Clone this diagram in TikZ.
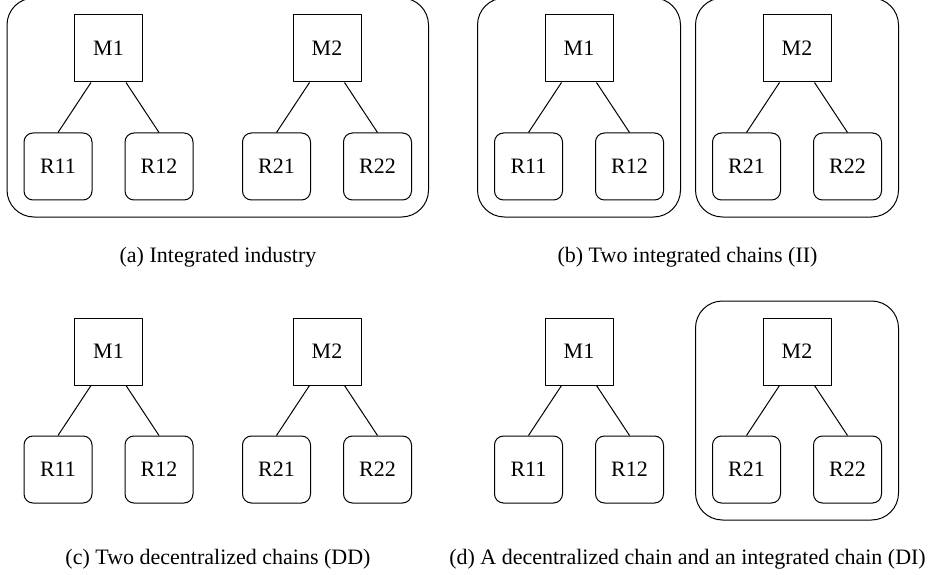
\documentclass[tikz,border=0pt]{standalone}
\usepackage{fontspec}
\setmainfont{Liberation Serif}
\usetikzlibrary{fit}

\begin{document}
\begin{tikzpicture}[x=1pt,y=-1pt,font=\fontsize{22}{26}\selectfont,line width=1pt,line join=round,
  mfirm/.style={draw,rectangle,minimum width=68pt,minimum height=67pt,inner sep=0pt},
  retail/.style={draw,rectangle,rounded corners=9pt,minimum width=68pt,minimum height=67pt,inner sep=0pt},
  chainbox/.style={draw,rectangle,rounded corners=27pt,inner sep=16.5pt},
  caption/.style={anchor=center,inner sep=0pt}]
  \useasboundingbox (0,0) rectangle (935,575);

  % one chain: #1 panel, #2 chain number, (#3,#4) centre of the manufacturer
  \def\mkchain#1#2#3#4{
    \node[mfirm] (#1M#2) at (#3,#4) {M#2};
    \node[retail] (#1R#21) at (#3-50.5,#4+118) {R#21};
    \node[retail] (#1R#22) at (#3+50.5,#4+118) {R#22};
    \draw ([xshift=-17.5pt]#1M#2.south) -- (#1R#21.north);
    \draw ([xshift=17.5pt]#1M#2.south) -- (#1R#22.north);
  }

  % ---------- (a) integrated industry ----------
  \mkchain{a}{1}{108.5}{48.5}
  \mkchain{a}{2}{327}{48.5}
  \node[chainbox,fit=(aM1) (aR11) (aR22)] (aall) {};
  \node[caption] (capa) at (218,257) {(a) Integrated industry};

  % ---------- (b) two integrated chains ----------
  \mkchain{b}{1}{579}{48.5}
  \mkchain{b}{2}{797}{48.5}
  \node[chainbox,fit=(bM1) (bR11) (bR12)] (bone) {};
  \node[chainbox,fit=(bM2) (bR21) (bR22)] (btwo) {};
  \node[caption] (capb) at (687.5,257) {(b) Two integrated chains (II)};

  % ---------- (c) two decentralized chains ----------
  \mkchain{c}{1}{108.5}{351.5}
  \mkchain{c}{2}{327}{351.5}
  \node[caption] (capc) at (218,559) {(c) Two decentralized chains (DD)};

  % ---------- (d) one of each ----------
  \mkchain{d}{1}{579}{351.5}
  \mkchain{d}{2}{797}{351.5}
  \node[chainbox,fit=(dM2) (dR21) (dR22)] (dtwo) {};
  \node[caption] (capd) at (687.5,559) {(d) A decentralized chain and an integrated chain (DI)};
\end{tikzpicture}
\end{document}
